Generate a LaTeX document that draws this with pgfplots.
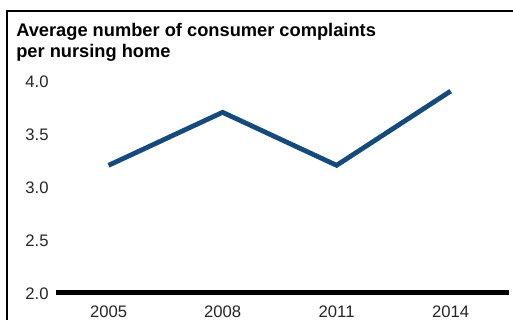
\documentclass[border=0pt]{standalone}
\usepackage{pgfplots}
\pgfplotsset{compat=1.18}
\usepackage{fontspec}
\setmainfont{Liberation Sans}
\definecolor{lineblue}{RGB}{20,74,124}
\begin{document}
\begin{tikzpicture}
\useasboundingbox (0,0) rectangle (384.75pt,240pt);
% frame
\draw[line width=1.6pt, black] (5.4pt,0) -- (5.4pt,231.5pt) -- (384.75pt,231.5pt);
% title
\node[anchor=base west, inner sep=0pt, font=\fontsize{13.7pt}{16pt}\selectfont\bfseries] at (12pt,212.25pt) {Average number of consumer complaints};
\node[anchor=base west, inner sep=0pt, font=\fontsize{13.7pt}{16pt}\selectfont\bfseries] at (12pt,196.5pt) {per nursing home};
\begin{axis}[
  at={(42pt,20.6pt)}, anchor=south west,
  scale only axis,
  width=339.75pt, height=174.9pt,
  xmin=-0.461, xmax=3.512,
  ymin=2, ymax=4.2,
  axis x line*=bottom, axis y line*=left,
  x axis line style={line width=3.8pt, -},
  y axis line style={draw=none},
  xtick={0,1,2,3},
  xticklabels={2005,2008,2011,2014},
  ytick={2,2.5,3,3.5,4},
  major tick length=0pt,
  tick style={draw=none},
  /pgf/number format/assume math mode=true,
  /pgf/number format/.cd, fixed, fixed zerofill, precision=1,
  /pgfplots/.cd,
  ticklabel style={font=\fontsize{12.5pt}{14pt}\selectfont, text=black!85},
  yticklabel style={anchor=east, xshift=-2pt, yshift=-1pt},
  xticklabel style={anchor=north, yshift=-6.5pt},
  clip=false,
]
\addplot[lineblue, line width=3.6pt, line join=miter] coordinates {
  (0,3.2) (1,3.7) (2,3.2) (3,3.9)
};
\end{axis}
\end{tikzpicture}
\end{document}
